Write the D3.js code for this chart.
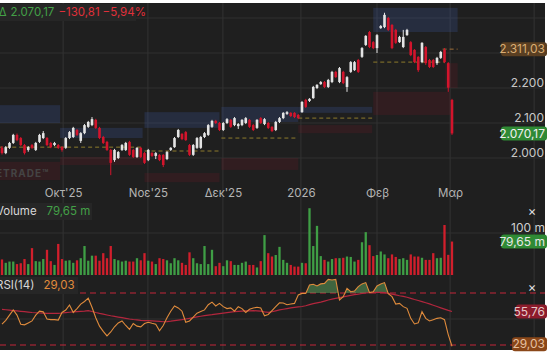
<!DOCTYPE html>
<html><head><meta charset="utf-8">
<script src="https://cdn.jsdelivr.net/npm/d3@7"></script>
<style>html,body{margin:0;padding:0;background:#fff;}svg{display:block;font-family:Inter,"Noto Sans",sans-serif;}</style>
</head><body><svg id="c" width="553" height="357"></svg>
<script>
// ---- data ----
const opens  = [2029,2014,2029,2043,2066,2057,2037,2023,2037,2023,2046,2057,2057,2043,2037,2037,2031,2029,2057,2060,2080,2049,2071,2089,2094,2109,2086,2060,2046,2023,1994,2000,2023,2023,2046,2023,2003,2029,2014,1994,2014,2006,2009,2009,1997,2023,2031,2060,2069,2074,2037,2009,2029,2029,2060,2066,2089,2106,2100,2080,2100,2109,2094,2091,2094,2100,2109,2094,2086,2114,2097,2100,2089,2080,2103,2114,2126,2129,2129,2123,2131,2166,2163,2171,2200,2211,2217,2203,2217,2246,2217,2246,2203,2246,2251,2280,2289,2323,2360,2331,2314,2371,2374,2400,2380,2366,2331,2317,2351,2331,2309,2289,2274,2317,2280,2280,2271,2286,2309,2271,2166];
const closes = [2014,2031,2043,2066,2051,2037,2014,2031,2029,2043,2066,2071,2037,2031,2043,2029,2023,2057,2074,2086,2066,2071,2094,2103,2111,2086,2057,2043,2023,1986,2023,2017,2037,2043,2009,2003,2029,2003,1986,2023,2006,2014,1994,1980,2017,2029,2057,2080,2054,2051,2009,2037,2057,2060,2071,2094,2106,2100,2080,2100,2111,2089,2114,2097,2109,2114,2089,2080,2109,2100,2111,2086,2077,2103,2114,2129,2131,2120,2117,2114,2160,2146,2169,2203,2209,2217,2203,2223,2246,2231,2257,2214,2231,2274,2274,2246,2314,2349,2317,2314,2351,2377,2409,2366,2314,2329,2346,2346,2366,2294,2274,2251,2329,2271,2260,2260,2286,2303,2274,2200.98,2070.17];
const highs  = [2034,2034,2046,2069,2070,2060,2040,2034,2040,2046,2069,2077,2060,2046,2046,2040,2034,2060,2077,2089,2083,2074,2097,2106,2117,2112,2089,2063,2049,2026,2026,2020,2040,2046,2049,2026,2031,2031,2017,2026,2017,2017,2011,2011,2020,2031,2060,2083,2071,2077,2040,2040,2060,2063,2074,2097,2109,2109,2103,2103,2114,2111,2117,2100,2111,2117,2111,2097,2111,2117,2114,2103,2091,2106,2117,2131,2134,2131,2131,2126,2163,2169,2171,2206,2211,2220,2220,2226,2249,2249,2260,2249,2234,2277,2277,2283,2317,2351,2363,2334,2354,2380,2415,2403,2383,2369,2349,2366,2369,2334,2311,2291,2331,2320,2283,2283,2289,2306,2314,2274,2169];
const lows   = [2010,2011,2026,2040,2048,2034,2010,2018,2026,2020,2043,2054,2034,2028,2034,2026,2018,2026,2054,2057,2063,2043,2068,2086,2091,2083,2054,2040,2020,1951,1989,1997,2020,2020,2006,2000,2000,2000,1983,1991,2003,1997,1991,1974,1994,2020,2029,2057,2051,2049,2006,2006,2026,2026,2057,2063,2086,2097,2077,2077,2097,2086,2091,2083,2091,2097,2086,2077,2083,2097,2094,2083,2074,2077,2100,2111,2123,2117,2114,2111,2129,2143,2160,2169,2197,2209,2200,2200,2214,2229,2214,2211,2189,2243,2249,2243,2286,2320,2314,2311,2300,2369,2371,2363,2311,2326,2329,2314,2349,2291,2271,2246,2271,2266,2257,2257,2266,2283,2271,2189,2066];
const volumes = [37,29,32,32,26,28,38,26,64,33,32,38,60,33,24,74,38,34,35,29,35,40,69,34,46,46,34,52,40,69,38,35,32,34,32,32,40,35,52,34,32,26,40,38,35,28,40,35,29,24,54,40,28,26,69,26,60,21,29,21,35,33,24,24,29,32,24,24,18,33,95,52,44,47.6,67,36,29,24,20,20,29,28,159,69,117,45,36,32,38,40,40,41,44,43,32,36,78,102,71,45,47.6,56,49,40,49,43,38,40,36,49,44,44,41,36,36,52,40,41,119,48,79.65];
const rsi = [46,49,53,57,53,46,45.5,47,48.5,53,56,55.5,50,49.5,49.5,49.2,55,56.9,60.8,55,58,61.5,63.5,66,59,51,44.5,40.5,37,40,44,47,48.5,45,42,46.5,44.5,44,46.5,47.5,46.7,46,41,45,51,56,60,58.5,56,47.5,48.5,51.5,54.5,55.8,57,61,63,60,62,59.5,58,58.5,56,59.5,58,55,57.5,58.5,59,58.5,52.5,53.5,56.5,59.5,62.5,62.3,61,61.5,62,68.5,69.7,69.7,76.2,76.7,75.4,77,77.4,80.5,80,80.5,64.6,67.2,73.6,71,71.5,74.9,77,78,70.3,71,75.4,77,78,69.5,67.2,61.5,62,59.5,58.2,50.5,46.2,47,55.6,50.5,48.5,49.5,50.5,51,49.5,38,29.03];
const rsiMA = [57.4,57.1,56.8,56.5,56.2,55.9,55.6,55.3,55.0,54.8,54.6,54.5,54.4,54.4,54.4,54.4,54.6,54.9,55.2,55.5,55.7,55.9,56.1,56.4,55.8,55.0,54.3,53.7,53.1,52.5,52.0,51.5,51.0,50.5,50.0,49.6,49.3,49.0,48.8,48.7,48.5,48.3,48.1,47.9,48.0,48.3,48.7,49.1,49.5,50.0,50.5,51.0,51.6,52.1,52.6,53.0,53.3,53.7,54.1,54.5,54.9,55.3,55.6,55.8,56.0,56.2,56.3,56.4,56.3,56.0,55.5,55.1,55.6,56.3,57.0,57.5,58.0,58.5,59.0,59.3,59.6,60.2,61.0,61.8,62.4,63.0,63.8,64.6,65.3,65.9,66.5,67.0,67.6,68.2,68.7,69.2,69.6,70.0,70.3,70.4,70.5,70.5,70.3,69.7,69.1,68.5,67.9,67.4,66.7,65.9,65.0,64.2,63.4,62.5,61.6,60.6,59.6,58.6,57.6,56.6,55.76];
const monthTicks  = [16.3, 38.9, 58.9, 79.7, 100, 119.5, 141.9];
const monthLabels = ["Οκτ'25","Νοε'25","Δεκ'25","2026","Φεβ","Μαρ",""];
const priceGrid   = [2000, 2100, 2200, 2300, 2400];
const priceLabels = [2000, 2100, 2200];
const zoneStart   = [-1, 15.5, 38, 58.5, 79, 99];
const zoneEnd     = [15.5, 37.5, 58, 79, 98.7, 121.5];
const blueTop     = [2151, 2086, 2131, 2146, 2146, 2429];
const blueBottom  = [2100, 2057, 2086, 2103, 2129, 2360];
const redStart    = [-1, 15.5, 38, 58.5, 79, 99, 118.2];
const redEnd      = [15.5, 37.5, 58, 79, 98.7, 119.5, 121.5];
const redTop      = [1989, 2003, 1957, 2000, 2094, 2189, 2271];
const redBottom   = [1937, 1980, 1931, 1966, 2071, 2123, 2200];
const pivotLevel  = [2031, 2031, 2020, 2057, 2114, 2274];
const pivotEnd    = [15.5, 37.5, 58, 79, 98.7, 118];
const refLevel = 2311.03, refStart = 117.5, refEnd = 121.5;
const volumeGrid = [100];
const rsiLevels = [70, 30];
const indexName = "ΓΔ";

// ---- setup ----
const loc = d3.formatLocale({decimal:",", thousands:".", grouping:[3], currency:["","€"]});
const f0 = loc.format(",.0f"), f2 = loc.format(",.2f");
const svg = d3.select("#c");
const N = closes.length;
const W = 545, TOP = 3, BOT = 350;
const FONT = "Inter,'Noto Sans',sans-serif";
const x = d3.scaleLinear().domain([0, N-1]).range([2, 452]);
const y = d3.scaleLinear().domain([2000, 2400]).range([158, 18]);
const yV = d3.scaleLinear().domain([0, 100]).range([275, 233]);
const yR = d3.scaleLinear().domain([30, 70]).range([345, 293]);
const bars = d3.range(N).map(i => ({i, o:opens[i], c:closes[i], h:highs[i], l:lows[i], v:volumes[i], up: closes[i] >= opens[i]}));
const WHITE = "#e4e4e4", RED = "#d3142c", GREEN = "#3f9e45", VRED = "#d11f2c";

const defs = svg.append("defs");
defs.append("clipPath").attr("id","plot").append("rect").attr("x",0).attr("y",TOP).attr("width",W).attr("height",BOT-TOP);
defs.append("clipPath").attr("id","price").append("rect").attr("x",0).attr("y",TOP).attr("width",W).attr("height",183-TOP);
defs.append("clipPath").attr("id","above70").append("rect").attr("x",0).attr("y",TOP).attr("width",W).attr("height",yR(70)-TOP);

svg.append("rect").attr("x",0).attr("y",TOP).attr("width",W).attr("height",BOT-TOP).attr("fill","#1f1f1f");
const root = svg.append("g").attr("clip-path","url(#plot)");

// grid
root.append("g").selectAll("line").data(monthTicks).join("line")
  .attr("x1", d=>x(d)).attr("x2", d=>x(d)).attr("y1", TOP).attr("y2", BOT)
  .attr("stroke","#333").attr("stroke-width",1);
root.append("g").selectAll("line").data(priceGrid).join("line")
  .attr("x1",0).attr("x2",W).attr("y1",d=>y(d)).attr("y2",d=>y(d)).attr("stroke","#303030");
root.append("g").selectAll("line").data(volumeGrid).join("line")
  .attr("x1",0).attr("x2",W).attr("y1",d=>yV(d)).attr("y2",d=>yV(d)).attr("stroke","#303030");
root.append("line").attr("x1",0).attr("x2",W).attr("y1",yR(50)).attr("y2",yR(50)).attr("stroke","#303030");

// zones
const pz = root.append("g").attr("clip-path","url(#price)");
pz.append("g").selectAll("rect").data(zoneStart).join("rect")
  .attr("x",(d)=>x(d)).attr("width",(d,i)=>x(zoneEnd[i])-x(d))
  .attr("y",(d,i)=>y(blueTop[i])).attr("height",(d,i)=>y(blueBottom[i])-y(blueTop[i]))
  .attr("fill","rgba(60,85,150,0.27)");
pz.append("g").selectAll("rect").data(redStart).join("rect")
  .attr("x",(d)=>x(d)).attr("width",(d,i)=>x(redEnd[i])-x(d))
  .attr("y",(d,i)=>y(redTop[i])).attr("height",(d,i)=>y(redBottom[i])-y(redTop[i]))
  .attr("fill","rgba(125,25,40,0.2)");
pz.append("g").selectAll("line").data(pivotLevel).join("line")
  .attr("x1",(d,i)=>x(zoneStart[i])).attr("x2",(d,i)=>x(pivotEnd[i]))
  .attr("y1",d=>y(d)).attr("y2",d=>y(d))
  .attr("stroke","#8d7b2c").attr("stroke-width",1).attr("stroke-dasharray","4,3");
pz.append("line").attr("x1",x(refStart)).attr("x2",x(refEnd)).attr("y1",y(refLevel)).attr("y2",y(refLevel))
  .attr("stroke","#a0703a").attr("stroke-dasharray","4,3");

// watermark
svg.append("text").attr("x",-4).attr("y",177).text("ETRADE™")
  .attr("fill","#444").attr("font-size",10).attr("font-weight",700).attr("letter-spacing",1);

// candles
const cg = pz.append("g");
cg.selectAll("line").data(bars).join("line")
  .attr("x1",d=>x(d.i)).attr("x2",d=>x(d.i)).attr("y1",d=>y(d.h)).attr("y2",d=>y(d.l))
  .attr("stroke",d=>d.up?WHITE:RED).attr("stroke-width",1);
cg.selectAll("rect").data(bars).join("rect")
  .attr("x",d=>x(d.i)-1.3).attr("width",2.6)
  .attr("y",d=>y(Math.max(d.o,d.c))).attr("height",d=>Math.max(1,Math.abs(y(d.o)-y(d.c))))
  .attr("fill",d=>d.up?WHITE:RED);

// volume
root.append("g").selectAll("rect").data(bars).join("rect")
  .attr("x",d=>x(d.i)-1.15).attr("width",2.3)
  .attr("y",d=>yV(d.v)).attr("height",d=>yV(0)-yV(d.v))
  .attr("fill",d=>d.up?GREEN:VRED);

// RSI
const rg = root.append("g");
rg.selectAll("line").data(rsiLevels).join("line")
  .attr("x1",0).attr("x2",W).attr("y1",d=>yR(d)).attr("y2",d=>yR(d))
  .attr("stroke","#c4263a").attr("stroke-width",1).attr("stroke-dasharray","6,4");
rg.append("path").datum(rsi).attr("clip-path","url(#above70)")
  .attr("d", d3.area().x((d,i)=>x(i)).y0(yR(70)).y1(d=>yR(d)))
  .attr("fill","rgba(95,170,95,0.5)");
rg.append("path").datum(rsiMA).attr("fill","none").attr("stroke","#b3263d").attr("stroke-width",1.2)
  .attr("d", d3.line().x((d,i)=>x(i)).y(d=>yR(d)));
rg.append("path").datum(rsi).attr("fill","none").attr("stroke","#e08b3c").attr("stroke-width",1.1)
  .attr("d", d3.line().x((d,i)=>x(i)).y(d=>yR(d)));

// time axis
const xa = svg.append("g").attr("transform","translate(0,186)")
  .call(d3.axisBottom(x).tickValues(monthTicks).tickFormat((d,i)=>monthLabels[i]).tickSize(0).tickPadding(3));
xa.select(".domain").remove();
xa.selectAll("text").attr("fill","#b4b4b4").attr("font-size",11.5).attr("font-family",FONT);

// price axis
const ya = svg.append("g").attr("transform",`translate(${W},0)`)
  .call(d3.axisLeft(y).tickValues(priceLabels).tickFormat(f0).tickSize(0).tickPadding(1));
ya.select(".domain").remove();
ya.selectAll("text").attr("fill","#c8c8c8").attr("font-size",12).attr("dy",-1.5).attr("font-family",FONT);

// value tags
function tag(yc, txt, bg, fg, w){
  svg.append("rect").attr("x",W-w).attr("y",yc-7).attr("width",w+2).attr("height",14).attr("rx",3).attr("fill",bg);
  svg.append("text").attr("x",W).attr("y",yc).attr("dy","0.35em").attr("text-anchor","end")
    .attr("fill",fg).attr("font-size",12).text(txt);
}
const last = closes[N-1], prev = closes[N-2];
tag(y(refLevel), f2(refLevel), "#5a3f22", "#d9ad74", 44);
tag(y(last), f2(last), "#2f8a35", "#f0f0f0", 44);
tag(yV(volumes[N-1]), f2(volumes[N-1])+" m", "#2f8a35", "#e8e8e8", 44);
tag(yR(rsiMA[N-1]), f2(rsiMA[N-1]), "#8c1c2c", "#e6c8c8", 29);
tag(yR(rsi[N-1])-2, f2(rsi[N-1]), "#8a4719", "#e6c0a0", 33);
svg.append("text").attr("x",W).attr("y",yV(100)-1.5).attr("text-anchor","end").attr("fill","#cfcfcf").attr("font-size",12).text(f0(100)+" m");
svg.append("text").attr("x",532).attr("y",211).attr("dy","0.35em").attr("text-anchor","middle").attr("fill","#ddd").attr("font-size",13).text("×");
svg.append("text").attr("x",532).attr("y",287).attr("dy","0.35em").attr("text-anchor","middle").attr("fill","#ddd").attr("font-size",13).text("×");

// legends
function legend(yc, w, x0, parts){
  svg.append("rect").attr("x",0).attr("y",yc-8).attr("width",w).attr("height",17).attr("fill","#262626");
  const t = svg.append("text").attr("x",x0).attr("y",yc).attr("dy","0.35em").attr("font-size",11.5).attr("xml:space","preserve");
  parts.forEach((p,k)=>t.append("tspan").attr("dx", k ? p[2] : 0).attr("fill",p[1]).text(p[0]));
}
const chg = last - prev, pct = chg/prev*100;
legend(12, 136, -7, [[indexName, "#43a047"],[f2(last), "#43a047", 4],[f2(chg), "#e0303a", 4],[f2(pct)+"%", "#e0303a", 3]]);
legend(211, 92, -4, [["Volume", "#d8d8d8"],[f2(volumes[N-1])+" m", "#43a047", 10]]);
legend(285, 78, -4, [["RSI(14)", "#d8d8d8"],[f2(rsi[N-1]), "#e08b3c", 9]]);
</script></body></html>
